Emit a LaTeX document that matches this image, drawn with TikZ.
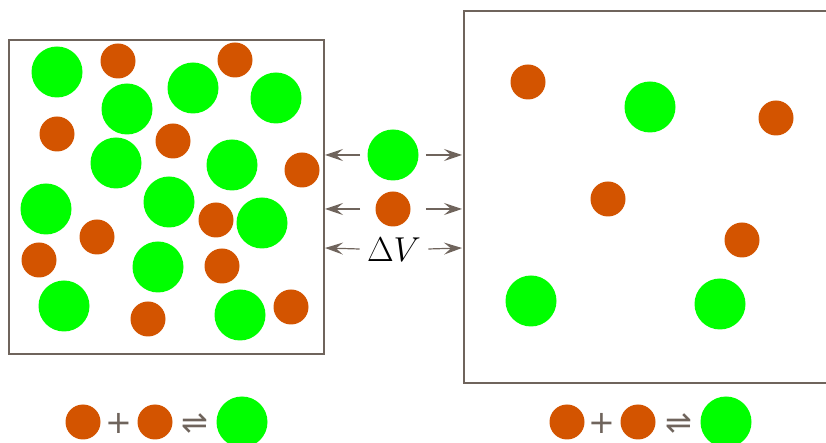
\documentclass[tikz,border=0pt]{standalone}
\usepackage{fontspec}
\usetikzlibrary{arrows.meta}
\newfontfamily\symbfont{DejaVu Sans}
\definecolor{wall}{HTML}{6F645C}
\definecolor{monomer}{HTML}{D35400}
\definecolor{dimer}{HTML}{00FF00}
\tikzset{
  mono/.style={circle,fill=monomer,minimum size=17.5pt,inner sep=0pt},
  dim/.style={circle,fill=dimer,minimum size=25.5pt,inner sep=0pt},
  flow/.style={draw=wall,line width=0.6pt,-{Stealth[length=9pt,width=6pt,inset=3.5pt]}},
  symb/.style={text=wall,font=\symbfont\fontsize{16}{18}\selectfont,inner sep=0pt},
  eqm/.style={text=wall,font=\symbfont\fontsize{16}{18}\selectfont,inner sep=0pt},
}

\begin{document}
\begin{tikzpicture}[x=0.5pt,y=-0.5pt]
        \useasboundingbox (0,0) rectangle (826,443);
        \clip (0,0) rectangle (826,443);
        \draw[wall,line width=1pt] (9,40) rectangle (324,354);
        \draw[wall,line width=1pt] (464,11) rectangle (850,383);
        \foreach \x/\y [count=\i] in {57/72,127/109,193/88,276/98,116/163,232/165,
            46/209,169/202,262/223,158/267,64/306,240/315}
          \node[dim] (gl\i) at (\x,\y) {};
        \foreach \x/\y [count=\i] in {118/61,235/60,57/134,173/141,302/170,216/220,
            97/237,39/260,222/266,148/319,291/307}
          \node[mono] (ol\i) at (\x,\y) {};
        \foreach \x/\y [count=\i] in {650/107,531/301,720/304}
          \node[dim] (gr\i) at (\x,\y) {};
        \foreach \x/\y [count=\i] in {528/82,776/118,608/199,742/240}
          \node[mono] (or\i) at (\x,\y) {};
        \node[dim] (gm) at (393,155) {};
        \node[mono] (om) at (393,209) {};
        \node[font=\fontsize{17}{20}\selectfont,inner sep=3.5pt] (dv) at (394,250) {$\Delta V$};
        \coordinate (wl1) at (325,155);
        \coordinate (wr1) at (462,155);
        \coordinate (wl2) at (325,209);
        \coordinate (wr2) at (462,209);
        \coordinate (wl3) at (325,248);
        \coordinate (wr3) at (462,248);
        \draw[flow,shorten <=3.5pt] (gm) -- (wl1);
        \draw[flow,shorten <=3.5pt] (gm) -- (wr1);
        \draw[flow,shorten <=7.5pt] (om) -- (wl2);
        \draw[flow,shorten <=7.5pt] (om) -- (wr2);
        \draw[flow] (dv) -- (wl3);
        \draw[flow] (dv) -- (wr3);
        % left reaction
        \node[mono] (a1) at (83,422) {};
        \node[symb] (p1) at (119,423) {+};
        \node[mono] (a2) at (155,422) {};
        \node[eqm] (e1) at (195,424) {⇌};
        \node[dim] (a3) at (242,422) {};
        % right reaction
        \node[mono] (b1) at (567,422) {};
        \node[symb] (p2) at (602,423) {+};
        \node[mono] (b2) at (638,422) {};
        \node[eqm] (e2) at (679,424) {⇌};
        \node[dim] (b3) at (726,422) {};
\end{tikzpicture}
\end{document}
